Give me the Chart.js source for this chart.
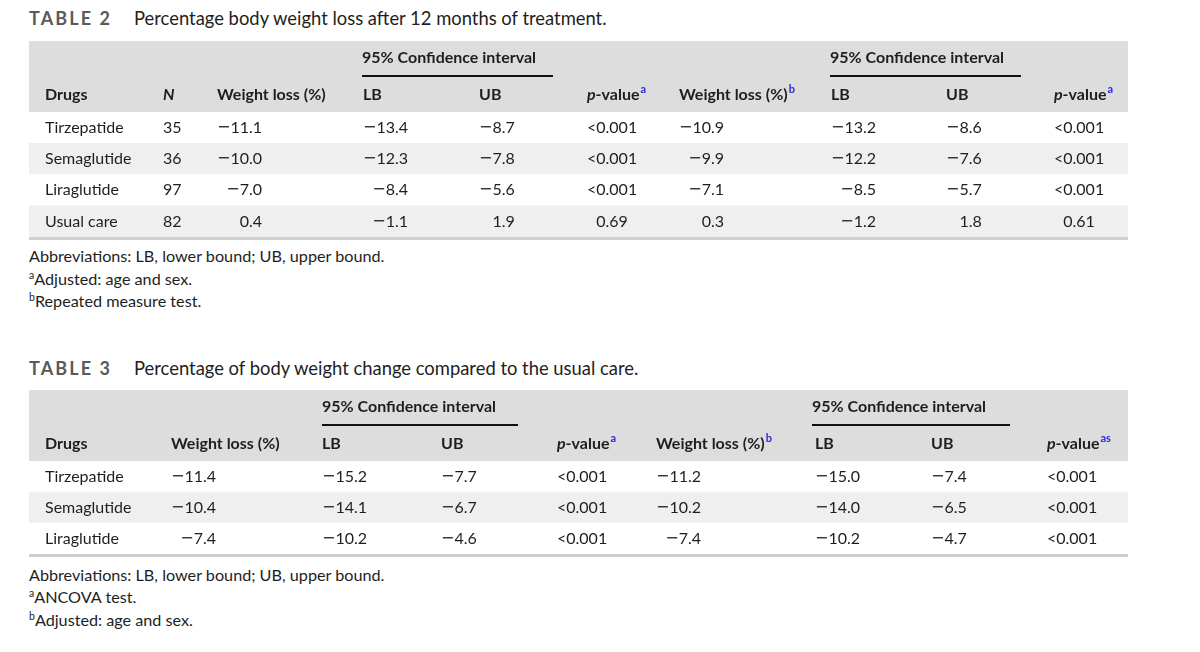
<!DOCTYPE html>
<html>
<head>
<meta charset="utf-8">
<script src="https://cdn.jsdelivr.net/npm/chart.js@4.4.1/dist/chart.umd.min.js"></script>
<style>
  html, body { margin: 0; padding: 0; background: #fff; }
  body { width: 1200px; height: 652px; position: relative; overflow: hidden; font-family: Lato, "Open Sans", sans-serif; color: #1e1e1e; }
  .abs { position: absolute; white-space: nowrap; }
  .tnum { font-weight: 700; color: #5a5a5a; letter-spacing: 2.1px; font-size: 18px; }
  .ttl { font-size: 18.4px; }
  .note { font-size: 16.2px; left: 29px; }
  .note sup { font-size: 10.5px; vertical-align: 6px; line-height: 0; }
  canvas { position: absolute; left: 29px; }
</style>
</head>
<body>
<div class="abs tnum" style="left:29px; top:7px;">TABLE 2</div>
<div class="abs ttl" style="left:134px; top:7px;">Percentage body weight loss after 12 months of treatment.</div>
<canvas id="table2" width="1099" height="200" style="top:41px;"></canvas>
<div class="abs note" style="top:246px;">Abbreviations: LB, lower bound; UB, upper bound.</div>
<div class="abs note" style="top:269px;"><sup>a</sup>Adjusted: age and sex.</div>
<div class="abs note" style="top:291px;"><sup>b</sup>Repeated measure test.</div>

<div class="abs tnum" style="left:29px; top:357px;">TABLE 3</div>
<div class="abs ttl" style="left:134px; top:357px;">Percentage of body weight change compared to the usual care.</div>
<canvas id="table3" width="1099" height="168" style="top:390px;"></canvas>
<div class="abs note" style="top:565px;">Abbreviations: LB, lower bound; UB, upper bound.</div>
<div class="abs note" style="top:587px;"><sup>a</sup>ANCOVA test.</div>
<div class="abs note" style="top:610px;"><sup>b</sup>Adjusted: age and sex.</div>

<script>
// Table 2: weight loss after 12 months
const drugs2 = ['Tirzepatide', 'Semaglutide', 'Liraglutide', 'Usual care'];
const n2 = [35, 36, 97, 82];
const wl2 = [-11.1, -10.0, -7.0, 0.4];
const lb2 = [-13.4, -12.3, -8.4, -1.1];
const ub2 = [-8.7, -7.8, -5.6, 1.9];
const p2 = ['<0.001', '<0.001', '<0.001', '0.69'];
const wlRm2 = [-10.9, -9.9, -7.1, 0.3];
const lbRm2 = [-13.2, -12.2, -8.5, -1.2];
const ubRm2 = [-8.6, -7.6, -5.7, 1.8];
const pRm2 = ['<0.001', '<0.001', '<0.001', '0.61'];

// Table 3: change compared to usual care
const drugs3 = ['Tirzepatide', 'Semaglutide', 'Liraglutide'];
const wl3 = [-11.4, -10.4, -7.4];
const lb3 = [-15.2, -14.1, -10.2];
const ub3 = [-7.7, -6.7, -4.6];
const p3 = ['<0.001', '<0.001', '<0.001'];
const wlAdj3 = [-11.2, -10.2, -7.4];
const lbAdj3 = [-15.0, -14.0, -10.2];
const ubAdj3 = [-7.4, -6.5, -4.7];
const pAdj3 = ['<0.001', '<0.001', '<0.001'];

const ciLabel = '95% Confidence interval';

const W = 1099;          // table width in x-scale units
const HEADER_H = 71;
const ROW_FONT = '16px Lato';
const MINUS_FONT = '16px "DejaVu Sans"';
const HEAD_FONT = 'bold 16px Lato';
const HEAD_ITALIC = 'italic bold 16px Lato';
const SUP_FONT = 'bold 11px Lato';
const TEXT = '#1e1e1e';
const SUP_COLOR = '#2a2ad6';

// split a cell into integer part / fraction so columns line up on the decimal point
function parts(v) {
  if (typeof v === 'number') {
    const [i, f] = Math.abs(v).toFixed(1).split('.');
    return { neg: v < 0, i, f };
  }
  const [i, f] = v.split('.');
  return { neg: false, i, f };
}
function intWidth(ctx, p) {
  ctx.font = ROW_FONT;
  let w = ctx.measureText(p.i).width;
  if (p.neg) { ctx.font = MINUS_FONT; w += ctx.measureText('\u2212').width; }
  return w;
}
function drawDec(ctx, p, decX, y) {
  ctx.font = ROW_FONT;
  ctx.textAlign = 'right';
  ctx.fillText(p.i, decX, y);
  if (p.neg) {
    const w = ctx.measureText(p.i).width;
    ctx.font = MINUS_FONT;
    ctx.fillText('\u2212', decX - w, y);
  }
  ctx.font = ROW_FONT;
  ctx.textAlign = 'left';
  ctx.fillText('.' + p.f, decX, y);
}

function tablePlugin(cols, spans) {
  return {
    id: 'tableText',
    beforeDraw(chart) {
      const { ctx, chartArea } = chart;
      const xs = chart.scales.x;
      ctx.save();
      ctx.fillStyle = '#dddddd';
      ctx.fillRect(xs.getPixelForValue(0), 0, xs.getPixelForValue(W) - xs.getPixelForValue(0), chartArea.top);
      ctx.restore();
    },
    afterDatasetsDraw(chart) {
      const { ctx, chartArea } = chart;
      const xs = chart.scales.x, ys = chart.scales.y;
      ctx.save();
      ctx.textBaseline = 'middle';

      // confidence interval spans
      spans.forEach(sp => {
        const x0 = xs.getPixelForValue(sp.from), x1 = xs.getPixelForValue(sp.to);
        ctx.font = HEAD_FONT;
        ctx.fillStyle = TEXT;
        ctx.textAlign = 'left';
        ctx.fillText(ciLabel, x0, 17);
        ctx.strokeStyle = '#111';
        ctx.lineWidth = 2;
        ctx.beginPath();
        ctx.moveTo(x0, 35);
        ctx.lineTo(x1, 35);
        ctx.stroke();
      });

      cols.forEach(col => {
        const x = xs.getPixelForValue(col.x);
        // header
        let hx = x;
        ctx.textAlign = 'left';
        col.head.forEach(seg => {
          if (seg.sup) {
            ctx.font = SUP_FONT;
            ctx.fillStyle = SUP_COLOR;
            ctx.fillText(seg.t, hx + 1, 48);
            hx += ctx.measureText(seg.t).width + 1;
          } else {
            ctx.font = seg.it ? HEAD_ITALIC : HEAD_FONT;
            ctx.fillStyle = TEXT;
            ctx.fillText(seg.t, hx, 54);
            hx += ctx.measureText(seg.t).width;
          }
        });
        // cells
        ctx.fillStyle = TEXT;
        if (col.dec) {
          const ps = col.values.map(parts);
          const decX = x + Math.max(...ps.map(p => intWidth(ctx, p)));
          ps.forEach((p, r) => drawDec(ctx, p, decX, ys.getPixelForValue(r)));
        } else {
          ctx.font = ROW_FONT;
          ctx.textAlign = 'left';
          col.values.forEach((v, r) => ctx.fillText(String(v), x, ys.getPixelForValue(r)));
        }
      });

      // bottom rule
      ctx.fillStyle = '#cfcfcf';
      ctx.fillRect(xs.getPixelForValue(0), chartArea.bottom, xs.getPixelForValue(W) - xs.getPixelForValue(0), 3);
      ctx.restore();
    }
  };
}

function makeTable(id, drugs, cols, spans) {
  new Chart(document.getElementById(id), {
    type: 'bar',
    data: {
      labels: drugs,
      datasets: [{
        data: drugs.map(() => [0, W]),
        backgroundColor: drugs.map((d, i) => i % 2 ? '#efefef' : '#ffffff'),
        borderWidth: 0,
        barPercentage: 1,
        categoryPercentage: 1
      }]
    },
    options: {
      indexAxis: 'y',
      responsive: false,
      animation: false,
      events: [],
      layout: { padding: { top: HEADER_H, bottom: 4, left: 0, right: 0 } },
      scales: {
        x: { type: 'linear', min: 0, max: W, display: false },
        y: { type: 'category', display: false, offset: true }
      },
      plugins: { legend: { display: false }, tooltip: { enabled: false } }
    },
    plugins: [tablePlugin(cols, spans)]
  });
}

const pHead = [{ t: 'p', it: true }, { t: '-value' }, { t: 'a', sup: true }];

makeTable('table2', drugs2, [
  { head: [{ t: 'Drugs' }], x: 16, values: drugs2 },
  { head: [{ t: 'N', it: true }], x: 134, values: n2 },
  { head: [{ t: 'Weight loss (%)' }], x: 188, dec: true, values: wl2 },
  { head: [{ t: 'LB' }], x: 334, dec: true, values: lb2 },
  { head: [{ t: 'UB' }], x: 450, dec: true, values: ub2 },
  { head: pHead, x: 558, dec: true, values: p2 },
  { head: [{ t: 'Weight loss (%)' }, { t: 'b', sup: true }], x: 650, dec: true, values: wlRm2 },
  { head: [{ t: 'LB' }], x: 802, dec: true, values: lbRm2 },
  { head: [{ t: 'UB' }], x: 917, dec: true, values: ubRm2 },
  { head: pHead, x: 1025, dec: true, values: pRm2 }
], [{ from: 333, to: 524 }, { from: 801, to: 992 }]);

makeTable('table3', drugs3, [
  { head: [{ t: 'Drugs' }], x: 16, values: drugs3 },
  { head: [{ t: 'Weight loss (%)' }], x: 142, dec: true, values: wl3 },
  { head: [{ t: 'LB' }], x: 293, dec: true, values: lb3 },
  { head: [{ t: 'UB' }], x: 412, dec: true, values: ub3 },
  { head: pHead, x: 528, dec: true, values: p3 },
  { head: [{ t: 'Weight loss (%)' }, { t: 'b', sup: true }], x: 627, dec: true, values: wlAdj3 },
  { head: [{ t: 'LB' }], x: 786, dec: true, values: lbAdj3 },
  { head: [{ t: 'UB' }], x: 902, dec: true, values: ubAdj3 },
  { head: [{ t: 'p', it: true }, { t: '-value' }, { t: 'as', sup: true }], x: 1018, dec: true, values: pAdj3 }
], [{ from: 293, to: 489 }, { from: 783, to: 981 }]);
</script>
</body>
</html>
